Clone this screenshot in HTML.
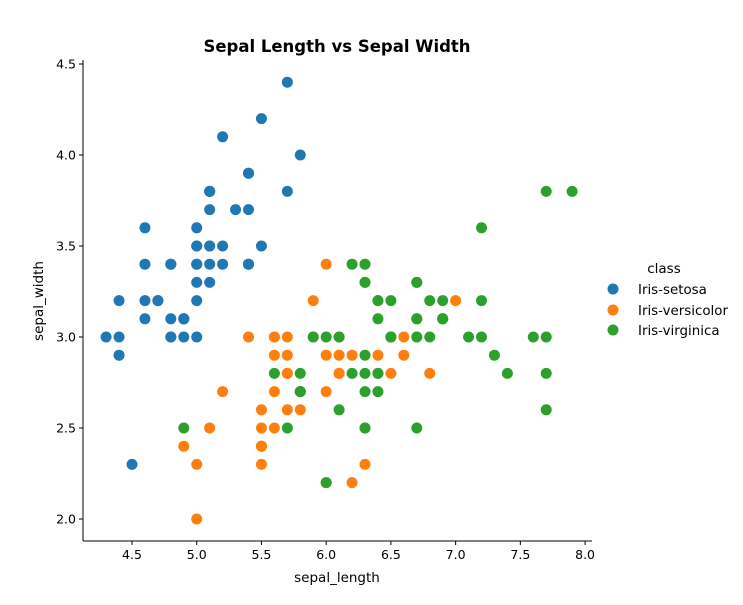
<!DOCTYPE html>
<html><head><meta charset="utf-8"><style>
body{margin:0;background:#fff;}
svg text{font-family:"DejaVu Sans","Liberation Sans",sans-serif;}
</style></head><body>
<svg id="chart" width="743" height="600" xmlns="http://www.w3.org/2000/svg">
<text x="337" y="52" text-anchor="middle" font-size="16.5" font-weight="bold">Sepal Length vs Sepal Width</text>
<g id="plot"></g>
<text x="337" y="582" text-anchor="middle" font-size="13.5">sepal_length</text>
<text transform="translate(43,301) rotate(-90)" text-anchor="middle" font-size="13.5">sepal_width</text>
<g>
<text x="664" y="273" text-anchor="middle" font-size="13.5">class</text>
<circle cx="613" cy="289" r="5.5" fill="#1f77b4"/>
<text x="638" y="294" font-size="13.4">Iris-setosa</text>
<circle cx="613" cy="310" r="5.5" fill="#ff7f0e"/>
<text x="638" y="315" font-size="13.4">Iris-versicolor</text>
<circle cx="613" cy="330" r="5.5" fill="#2ca02c"/>
<text x="638" y="335" font-size="13.4">Iris-virginica</text>
</g>
</svg>
<script>
const setosaX=[5.1,4.9,4.7,4.6,5.0,5.4,4.6,5.0,4.4,4.9,5.4,4.8,4.8,4.3,5.8,5.7,5.4,5.1,5.7,5.1,5.4,5.1,4.6,5.1,4.8,5.0,5.0,5.2,5.2,4.7,4.8,5.4,5.2,5.5,4.9,5.0,5.5,4.9,4.4,5.1,5.0,4.5,4.4,5.0,5.1,4.8,5.1,4.6,5.3,5.0];
const setosaY=[3.5,3.0,3.2,3.1,3.6,3.9,3.4,3.4,2.9,3.1,3.7,3.4,3.0,3.0,4.0,4.4,3.9,3.5,3.8,3.8,3.4,3.7,3.6,3.3,3.4,3.0,3.4,3.5,3.4,3.2,3.1,3.4,4.1,4.2,3.1,3.2,3.5,3.1,3.0,3.4,3.5,2.3,3.2,3.5,3.8,3.0,3.8,3.2,3.7,3.3];
const versicolorX=[7.0,6.4,6.9,5.5,6.5,5.7,6.3,4.9,6.6,5.2,5.0,5.9,6.0,6.1,5.6,6.7,5.6,5.8,6.2,5.6,5.9,6.1,6.3,6.1,6.4,6.6,6.8,6.7,6.0,5.7,5.5,5.5,5.8,6.0,5.4,6.0,6.7,6.3,5.6,5.5,5.5,6.1,5.8,5.0,5.6,5.7,5.7,6.2,5.1,5.7];
const versicolorY=[3.2,3.2,3.1,2.3,2.8,2.8,3.3,2.4,2.9,2.7,2.0,3.0,2.2,2.9,2.9,3.1,3.0,2.7,2.2,2.5,3.2,2.8,2.5,2.8,2.9,3.0,2.8,3.0,2.9,2.6,2.4,2.4,2.7,2.7,3.0,3.4,3.1,2.3,3.0,2.5,2.6,3.0,2.6,2.3,2.7,3.0,2.9,2.9,2.5,2.8];
const virginicaX=[6.3,5.8,7.1,6.3,6.5,7.6,4.9,7.3,6.7,7.2,6.5,6.4,6.8,5.7,5.8,6.4,6.5,7.7,7.7,6.0,6.9,5.6,7.7,6.3,6.7,7.2,6.2,6.1,6.4,7.2,7.4,7.9,6.4,6.3,6.1,7.7,6.3,6.4,6.0,6.9,6.7,6.9,5.8,6.8,6.7,6.7,6.3,6.5,6.2,5.9];
const virginicaY=[3.3,2.7,3.0,2.9,3.0,3.0,2.5,2.9,2.5,3.6,3.2,2.7,3.0,2.5,2.8,3.2,3.0,3.8,2.6,2.2,3.2,2.8,2.8,2.7,3.3,3.2,2.8,3.0,2.8,3.0,2.8,3.8,2.8,2.8,2.6,3.0,3.4,3.1,3.0,3.1,3.1,3.1,2.7,3.2,3.3,3.0,2.5,3.0,3.4,3.0];
const xTicks=["4.5","5.0","5.5","6.0","6.5","7.0","7.5","8.0"];
const yTicks=["2.0","2.5","3.0","3.5","4.0","4.5"];

const NS="http://www.w3.org/2000/svg";
const X0=83,X1=592,Y0=541,Y1=60;
function xs(v){return 132+(v-4.5)*129.45;}
function ys(v){return 519-(v-2.0)*182;}
const g=document.getElementById('plot');
function mk(t,a){const e=document.createElementNS(NS,t);for(const k in a)e.setAttribute(k,a[k]);g.appendChild(e);return e;}
let ax=mk('line',{x1:X0,y1:Y0,x2:X1,y2:Y0,stroke:'#000','stroke-width':1});


let ay=mk('line',{x1:X0,y1:Y1,x2:X0,y2:Y0,stroke:'#000','stroke-width':1});


xTicks.forEach(t=>{const x=xs(parseFloat(t));
 mk('line',{x1:x,y1:Y0,x2:x,y2:Y0+4,stroke:'#000'});
 const e=mk('text',{x:x,y:Y0+18,'text-anchor':'middle','font-size':12.5});e.textContent=t;
 
 
});
yTicks.forEach(t=>{const y=ys(parseFloat(t));
 mk('line',{x1:X0-4,y1:y,x2:X0,y2:y,stroke:'#000'});
 const e=mk('text',{x:X0-7,y:y+4.5,'text-anchor':'end','font-size':12.5});e.textContent=t;
 
 
});
function series(X,Y,c,n){for(let i=0;i<X.length;i++){
 const e=mk('circle',{cx:xs(X[i]),cy:ys(Y[i]),r:5.5,fill:c});
 
 
}}
series(setosaX,setosaY,'#1f77b4','setosa');
series(versicolorX,versicolorY,'#ff7f0e','versicolor');
series(virginicaX,virginicaY,'#2ca02c','virginica');
</script>
</body></html>
